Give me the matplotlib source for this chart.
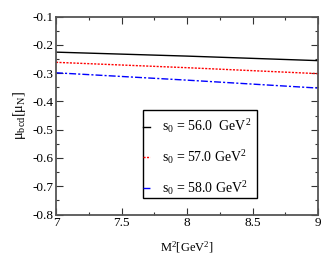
import matplotlib
matplotlib.use("Agg")
import matplotlib.pyplot as plt
from matplotlib.patches import Rectangle
from matplotlib.ticker import MultipleLocator

plt.rcParams["font.family"] = ["Liberation Serif", "DejaVu Serif"]
plt.rcParams["mathtext.fontset"] = "custom"
plt.rcParams["mathtext.rm"] = "Liberation Serif"
plt.rcParams["mathtext.it"] = "Liberation Serif:italic"

m2 = [7.0, 8.0, 9.0]
mu_s56 = [-0.226, -0.240, -0.256]
mu_s57 = [-0.262, -0.281, -0.302]
mu_s58 = [-0.299, -0.325, -0.353]
labels = [r"s$_0$ = 56.0  GeV$^2$", r"s$_0$ = 57.0 GeV$^2$", r"s$_0$ = 58.0 GeV$^2$"]

fig = plt.figure(figsize=(3.32, 2.57), dpi=100)
ax = fig.add_axes([56 / 332, 1 - 214.5 / 257, 262 / 332, 198 / 257])

ax.plot(m2, mu_s56, color="black", linestyle="-", linewidth=1.0, label=labels[0])
ax.plot(m2, mu_s57, color="red", linestyle=(0, (1.5, 1.0)), linewidth=1.0, label=labels[1])
ax.plot(m2, mu_s58, color="blue", linestyle=(0, (5, 1.5, 1.5, 1.5)), linewidth=1.0, label=labels[2])

ax.set_xlim(7, 9)
ax.set_ylim(-0.8, -0.1)
ax.xaxis.set_major_locator(MultipleLocator(0.5))
ax.xaxis.set_minor_locator(MultipleLocator(0.25))
ax.yaxis.set_major_locator(MultipleLocator(0.1))
ax.yaxis.set_minor_locator(MultipleLocator(0.05))
ax.xaxis.set_major_formatter(plt.FuncFormatter(lambda v, p: f"{v:g}"))
ax.yaxis.set_major_formatter(plt.FuncFormatter(lambda v, p: f"{v:.1f}"))
ax.tick_params(which="both", direction="in", top=True, right=True, labelsize=9.5, color="#333333")
ax.tick_params(which="major", length=5, width=0.8, pad=2)
ax.tick_params(which="minor", length=2.5, width=0.8)
for sp in ax.spines.values():
    sp.set_linewidth(1.3)
    sp.set_color("#555555")

ax.set_xlabel(r"M$^2$[GeV$^2$]", fontsize=9, labelpad=7)
ax.set_ylabel(r"μ$_{\rm bcd}$[μ$_{\rm N}$]", fontsize=10.5, labelpad=3)

# legend box drawn separately (grace-style: handles hug the left edge)
box_x0, box_x1 = (143 - 56) / 262, (257 - 56) / 262
box_y0, box_y1 = (214.5 - 198) / 198, (214.5 - 110) / 198
ax.add_patch(Rectangle((box_x0, box_y0), box_x1 - box_x0, box_y1 - box_y0,
                       transform=ax.transAxes, fill=True, facecolor="white",
                       edgecolor="black", linewidth=1.0, zorder=4))
leg = ax.legend(loc="upper left", bbox_to_anchor=(box_x0 + 0.3 / 262, 1 - 101 / 198), fontsize=10,
                frameon=False, handlelength=0.5, handletextpad=0.85,
                labelspacing=0.93, borderpad=0, borderaxespad=0)
leg.set_zorder(5)

fig.savefig("out.png", dpi=100)
